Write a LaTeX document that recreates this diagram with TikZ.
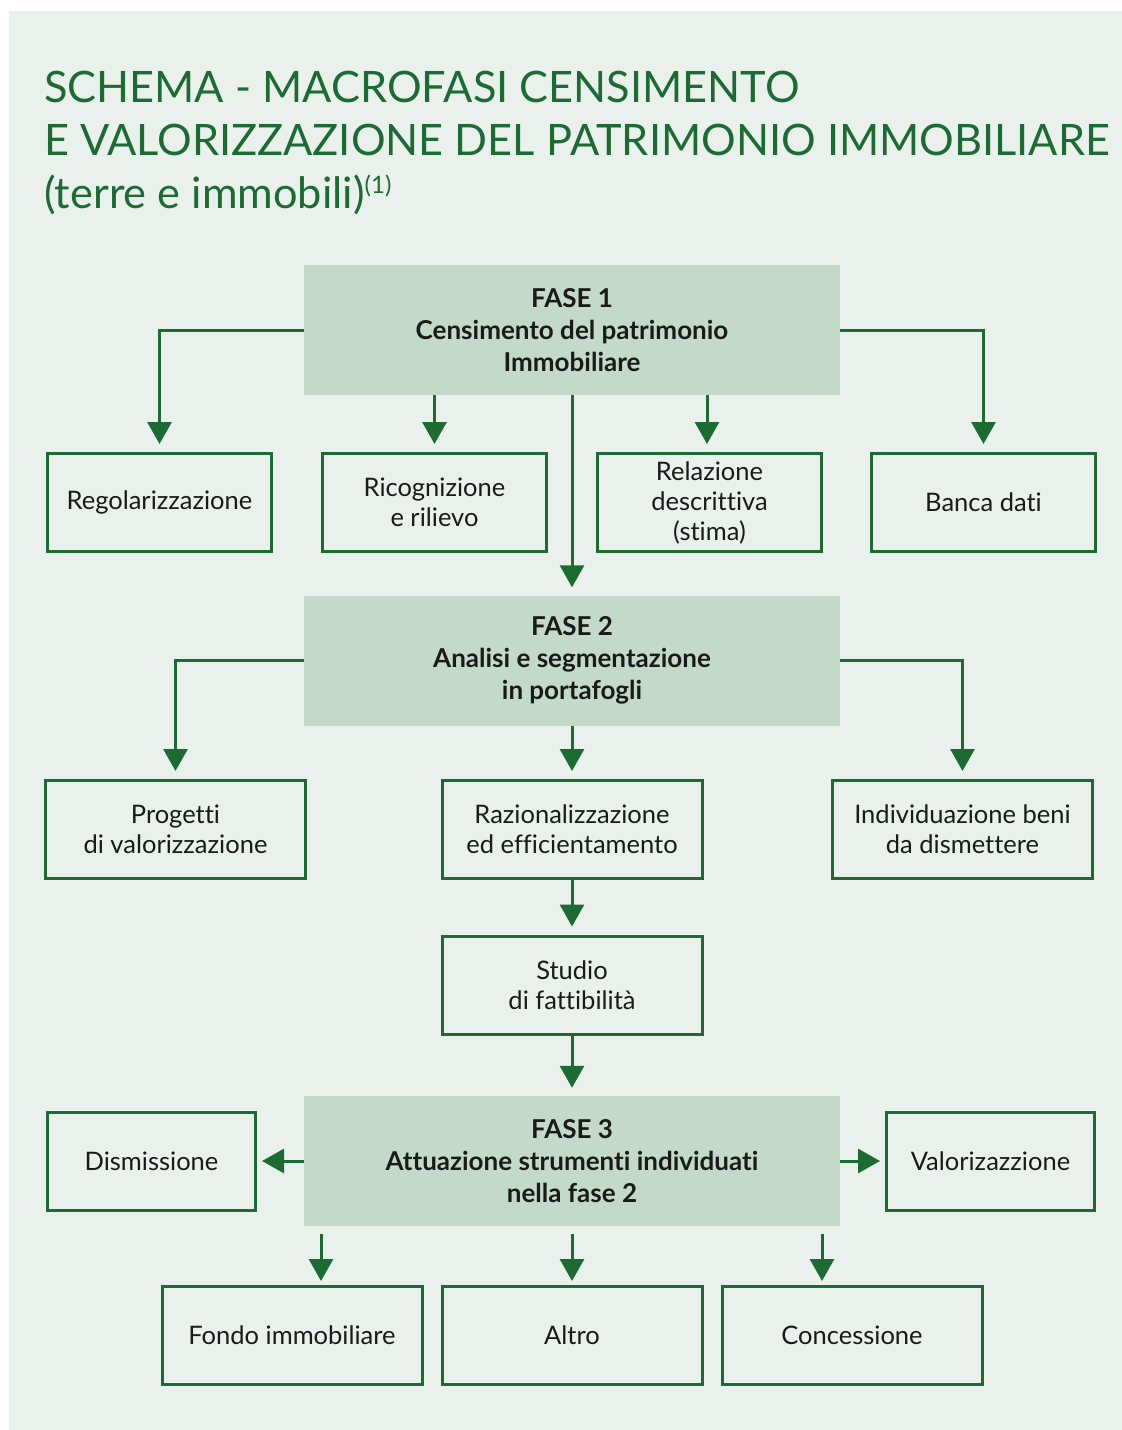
\documentclass[tikz,border=0pt]{standalone}
\usepackage{fontspec}
\setmainfont{Lato}[Ligatures=NoCommon]
\usetikzlibrary{arrows.meta}
\definecolor{panel}{HTML}{EAF1EC}
\definecolor{fasefill}{HTML}{C3D9C9}
\definecolor{dkgreen}{HTML}{1B6B33}
\definecolor{txt}{HTML}{1A1A1A}
\tikzset{
  fasebox/.style={fill=fasefill, draw=none, minimum width=536pt, minimum height=130pt, inner sep=0pt, align=center, text=txt, font=\fontsize{26}{32}\selectfont\bfseries},
  itembox/.style={draw=dkgreen, line width=3pt, fill=panel, minimum height=98pt, inner sep=0pt, align=center, text=txt, font=\fontsize{25.5}{30}\selectfont},
  conn/.style={draw=dkgreen, line width=3pt, -{Triangle[width=24pt,length=22pt]}, shorten >=8pt},
  titletext/.style={anchor=base west, inner sep=0pt, text=dkgreen, font=\fontsize{43.3}{53}\selectfont}
}
\begin{document}
\begin{tikzpicture}[x=1pt,y=-1pt]
\useasboundingbox (0,0) rectangle (1122,1430);
\fill[white] (0,0) rectangle (1122,1430);
\fill[panel] (9,11) rectangle (1122,1430);
% title
\node[titletext] (t1) at (44,102) {SCHEMA - MACROFASI CENSIMENTO};
\node[titletext] (t2) at (44,155) {E VALORIZZAZIONE DEL PATRIMONIO IMMOBILIARE};
\node[titletext] (t3) at (44,208) {(terre e immobili)\raisebox{15pt}{\fontsize{24}{24}\selectfont(1)}};
% phase boxes
\node[fasebox] (f1) at (572,330) {FASE 1\\Censimento del patrimonio\\Immobiliare};
\node[fasebox] (f2) at (572,660.5) {FASE 2\\Analisi e segmentazione\\in portafogli};
\node[fasebox] (f3) at (572,1161) {FASE 3\\Attuazione strumenti individuati\\nella fase 2};
% row 1
\node[itembox, minimum width=224pt] (reg) at (159.5,502.5) {Regolarizzazione};
\node[itembox, minimum width=224pt] (ric) at (434.5,502.5) {Ricognizione\\e rilievo};
\node[itembox, minimum width=224pt] (rel) at (709.5,502.5) {Relazione\\descrittiva\\(stima)};
\node[itembox, minimum width=224pt] (ban) at (983.5,502.5) {Banca dati};
% row 2
\node[itembox, minimum width=260pt] (pro) at (175.5,829.5) {Progetti\\di valorizzazione};
\node[itembox, minimum width=260pt] (raz) at (572,829.5) {Razionalizzazione\\ed efficientamento};
\node[itembox, minimum width=260pt] (ind) at (962.5,829.5) {Individuazione beni\\da dismettere};
\node[itembox, minimum width=260pt] (stu) at (572,985) {Studio\\di fattibilità};
% row 3
\node[itembox, minimum width=208pt] (dis) at (151.5,1161) {Dismissione};
\node[itembox, minimum width=208pt] (val) at (990.5,1161) {Valorizazzione};
\node[itembox, minimum width=260pt] (fon) at (292,1335.5) {Fondo immobiliare};
\node[itembox, minimum width=260pt] (alt) at (572,1335.5) {Altro};
\node[itembox, minimum width=260pt] (con) at (852,1335.5) {Concessione};
% connectors phase 1
\draw[conn] (f1.west) -| (reg.north);
\draw[conn] (f1.east) -| (ban.north);
\draw[conn] (ric.north |- f1.south) -- (ric.north);
\coordinate (r1) at (707,395);
\draw[conn] (r1) -- (r1 |- rel.north);
\draw[conn] (f1.south) -- (f2.north);
% connectors phase 2
\draw[conn] (f2.west) -| (pro.north);
\draw[conn] (f2.east) -| (ind.north);
\draw[conn] (f2.south) -- (raz.north);
\draw[conn] (raz.south) -- (stu.north);
\draw[conn] (stu.south) -- (f3.north);
% connectors phase 3
\draw[conn, shorten >=5pt] (f3.west) -- (dis.east);
\draw[conn, shorten >=5pt] (f3.east) -- (val.west);
\coordinate (b1) at (321,1234);
\coordinate (b2) at (572,1234);
\coordinate (b3) at (822,1234);
\draw[conn, shorten >=4pt] (b1) -- (b1 |- fon.north);
\draw[conn, shorten >=4pt] (b2) -- (b2 |- alt.north);
\draw[conn, shorten >=4pt] (b3) -- (b3 |- con.north);
\end{tikzpicture}
\end{document}
